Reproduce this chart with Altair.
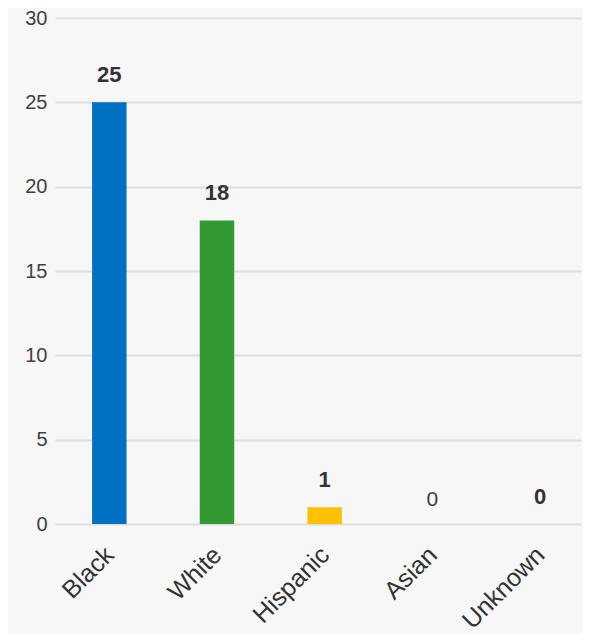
import altair as alt
import pandas as pd

categories = ["Black", "White", "Hispanic", "Asian", "Unknown"]
values = [25, 18, 1, 0, 0]
colors = ["#0070c0", "#339933", "#ffc000", "#a5a5a5", "#7f7f7f"]
bold_label = [True, True, True, False, True]
y_ticks = [0, 5, 10, 15, 20, 25, 30]

df = pd.DataFrame({"cat": categories, "val": values, "bold": bold_label})

x = alt.X("cat:N", sort=categories, title=None,
          scale=alt.Scale(paddingInner=0.68, paddingOuter=0.287, align=0.6),
          axis=alt.Axis(labelAngle=-45, labelAlign="right", labelBaseline="top",
                        labelPadding=18, labelOffset=-8, ticks=False, domain=False,
                        labelFontSize=25, labelFont="Liberation Sans",
                        labelColor="#333333"))
y = alt.Y("val:Q", title=None,
          scale=alt.Scale(domain=[0, 30], nice=False),
          axis=alt.Axis(values=y_ticks, ticks=False, domain=False, labelFontSize=20,
                        labelFont="Liberation Sans", labelColor="#404040",
                        labelPadding=8, gridColor="#dddddd", gridWidth=2))

bars = alt.Chart(df).mark_bar().encode(
    x=x, y=y,
    color=alt.Color("cat:N", scale=alt.Scale(domain=categories, range=colors), legend=None),
)

bold_text = alt.Chart(df).transform_filter("datum.bold").mark_text(
    dy=-15, baseline="bottom", fontSize=22, fontWeight="bold",
    font="Liberation Sans", color="#333333"
).encode(x=x, y=y, text="val:Q")

plain_text = alt.Chart(df).transform_filter("!datum.bold").mark_text(
    dy=-14, baseline="bottom", fontSize=21, fontWeight="normal",
    font="Liberation Sans", color="#404040"
).encode(x=x, y=y, text="val:Q")

chart = alt.layer(bars, bold_text, plain_text).properties(
    width=527, height=506,
    background="#f7f7f7",
    padding={"left": 47, "top": 10, "right": 0, "bottom": 110},
    autosize=alt.AutoSizeParams(type="none"),
).configure_view(stroke=None)

chart.save("out.html", embed_options={"renderer": "svg", "actions": False})
